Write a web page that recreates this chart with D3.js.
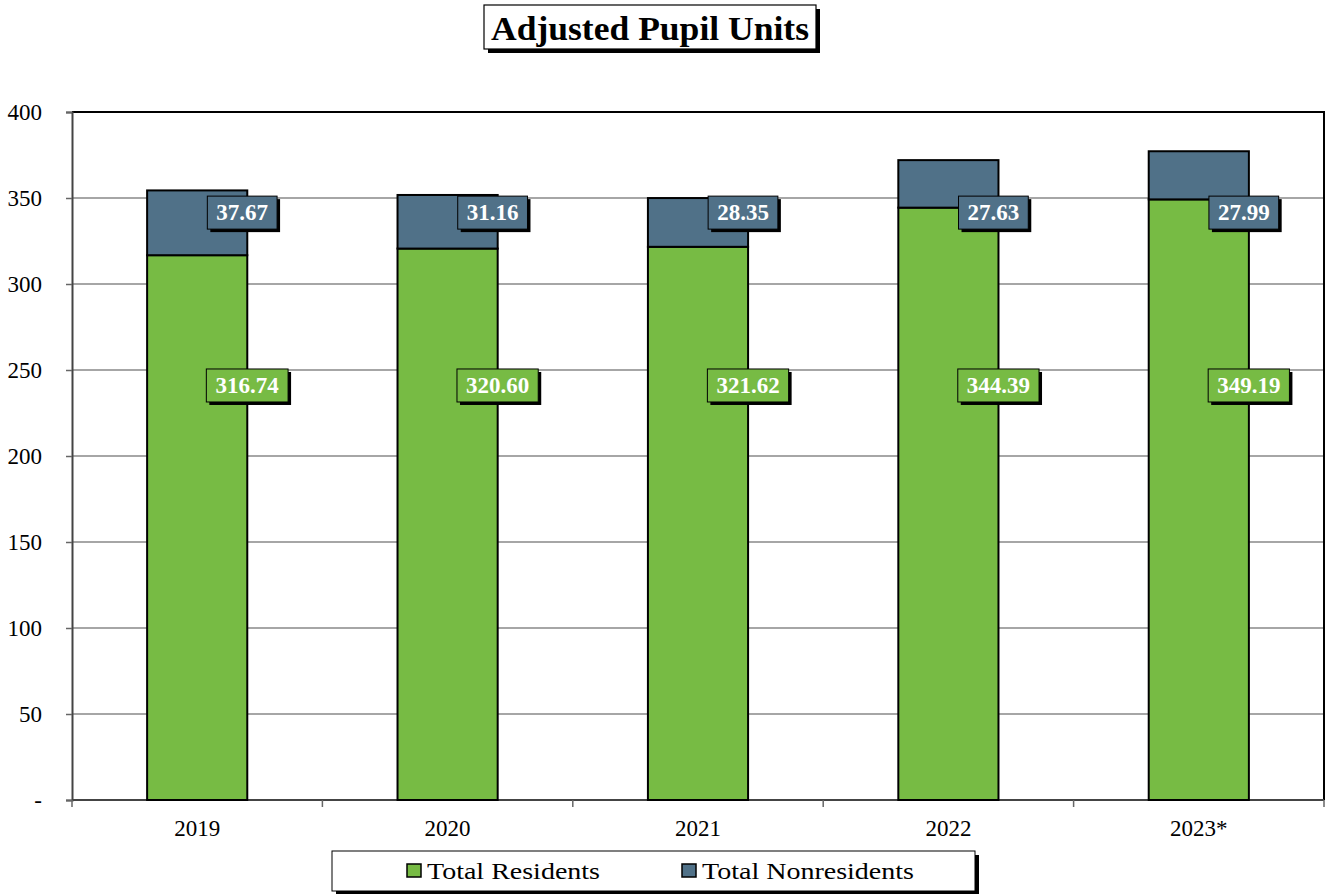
<!DOCTYPE html>
<html>
<head>
<meta charset="utf-8">
<script src="https://cdn.jsdelivr.net/npm/d3@7"></script>
<style>
  body { margin: 0; background: #fff; }
  svg { font-family: "Liberation Serif", "Times New Roman", serif; }
</style>
</head>
<body>
<svg id="chart" width="1329" height="894"></svg>
<script>
// chart data
var years = ['2019', '2020', '2021', '2022', '2023*'];
var residents = [316.74, 320.60, 321.62, 344.39, 349.19];
var nonresidents = [37.67, 31.16, 28.35, 27.63, 27.99];
var yTicks = [0, 50, 100, 150, 200, 250, 300, 350, 400];
var seriesNames = ['Total Residents', 'Total Nonresidents'];
var colors = ['#77bb44', '#507188'];

var svg = d3.select('#chart');
var margin = {left: 72, right: 5, top: 112, bottom: 94};
var width = 1329 - margin.left - margin.right;
var height = 894 - margin.top - margin.bottom;
var g = svg.append('g').attr('transform', 'translate(' + margin.left + ',' + margin.top + ')');

var x = d3.scaleBand().domain(years).range([0, width]).paddingInner(0.6).paddingOuter(0.3);
var xb = d3.scaleLinear().domain([0, years.length]).range([0, width]);
var y = d3.scaleLinear().domain([0, 400]).range([height, 0]);

// gridlines
g.append('g').selectAll('line').data(yTicks.filter(function(d) { return d > 0 && d < 400; }))
  .enter().append('line')
  .attr('x1', 0).attr('x2', width)
  .attr('y1', function(d) { return y(d); }).attr('y2', function(d) { return y(d); })
  .attr('stroke', '#888').attr('stroke-width', 1.3);

// plot border (top/right)
g.append('path')
  .attr('d', 'M0,' + y(400) + 'H' + width + 'V' + height)
  .attr('fill', 'none').attr('stroke', '#000').attr('stroke-width', 2);

// y axis
var yAxis = g.append('g')
  .call(d3.axisLeft(y).tickValues(yTicks).tickSize(6).tickPadding(24)
    .tickFormat(function(d) { return d === 0 ? '-' : d; }));
yAxis.select('.domain').attr('stroke', '#444').attr('stroke-width', 2);
yAxis.selectAll('.tick line').attr('stroke', '#666').attr('stroke-width', 1.5);
yAxis.selectAll('text').attr('font-size', 23).attr('font-family', 'Liberation Serif').attr('fill', '#000');

// x axis
g.append('line').attr('x1', 0).attr('x2', width).attr('y1', height).attr('y2', height)
  .attr('stroke', '#444').attr('stroke-width', 2);
g.append('g').selectAll('line').data(d3.range(years.length + 1)).enter().append('line')
  .attr('x1', function(d) { return xb(d); }).attr('x2', function(d) { return xb(d); })
  .attr('y1', height).attr('y2', height + 7)
  .attr('stroke', '#666').attr('stroke-width', 1.5);
g.append('g').selectAll('text').data(years).enter().append('text')
  .attr('x', function(d) { return x(d) + x.bandwidth() / 2; })
  .attr('y', height + 36)
  .attr('text-anchor', 'middle').attr('font-size', 23)
  .text(function(d) { return d; });

// bars
var rows = years.map(function(yr, i) {
  return {year: yr, res: residents[i], non: nonresidents[i]};
});
var bars = g.append('g');
bars.selectAll('rect.res').data(rows).enter().append('rect')
  .attr('x', function(d) { return x(d.year); })
  .attr('y', function(d) { return y(d.res); })
  .attr('width', x.bandwidth())
  .attr('height', function(d) { return y(0) - y(d.res); })
  .attr('fill', colors[0]).attr('stroke', '#000').attr('stroke-width', 2);
bars.selectAll('rect.non').data(rows).enter().append('rect')
  .attr('x', function(d) { return x(d.year); })
  .attr('y', function(d) { return y(d.res + d.non); })
  .attr('width', x.bandwidth())
  .attr('height', function(d) { return y(d.res) - y(d.res + d.non); })
  .attr('fill', colors[1]).attr('stroke', '#000').attr('stroke-width', 2);

// value labels with drop shadow boxes
var labels = g.append('g');
function label(cx, cy, txt, fill) {
  var grp = labels.append('g');
  var shadow = grp.append('rect').attr('fill', '#000');
  var box = grp.append('rect').attr('fill', fill).attr('stroke', '#000').attr('stroke-width', 1);
  var t = grp.append('text')
    .attr('x', cx).attr('y', cy)
    .attr('text-anchor', 'middle').attr('dominant-baseline', 'central')
    .attr('font-size', 23).attr('font-weight', 'bold').attr('fill', '#fff')
    .text(txt);
  var w = t.node().getBBox().width + 18, h = 33;
  shadow.attr('x', cx - w / 2 + 3).attr('y', cy - h / 2 + 3).attr('width', w).attr('height', h);
  box.attr('x', cx - w / 2).attr('y', cy - h / 2).attr('width', w).attr('height', h);
}
rows.forEach(function(d) {
  var bx = x(d.year) + x.bandwidth() / 2;
  label(bx + 50, y(241), d.res.toFixed(2), colors[0]);
  label(bx + 45, y(341.5), d.non.toFixed(2), colors[1]);
});

// title
var tg = svg.append('g');
tg.append('rect').attr('x', 488).attr('y', 9).attr('width', 332).attr('height', 44).attr('fill', '#000');
tg.append('rect').attr('x', 484).attr('y', 5).attr('width', 332).attr('height', 44)
  .attr('fill', '#fff').attr('stroke', '#000').attr('stroke-width', 1.2);
tg.append('text')
  .attr('x', 650).attr('y', 40)
  .attr('text-anchor', 'middle')
  .attr('font-size', 33).attr('font-weight', 'bold')
  .attr('textLength', 318).attr('lengthAdjust', 'spacingAndGlyphs')
  .text('Adjusted Pupil Units');

// legend
var lg = svg.append('g');
lg.append('rect').attr('x', 336).attr('y', 855).attr('width', 643).attr('height', 40).attr('fill', '#000');
lg.append('rect').attr('x', 332).attr('y', 851).attr('width', 643).attr('height', 40)
  .attr('fill', '#fff').attr('stroke', '#000').attr('stroke-width', 1);
var legX = [407, 682];
var legW = [173, 212];
seriesNames.forEach(function(name, i) {
  lg.append('rect').attr('x', legX[i]).attr('y', 864).attr('width', 14).attr('height', 13)
    .attr('fill', colors[i]).attr('stroke', '#000').attr('stroke-width', 1.5);
  lg.append('text').attr('x', legX[i] + 20).attr('y', 879)
    .attr('font-size', 23)
    .attr('textLength', legW[i]).attr('lengthAdjust', 'spacingAndGlyphs')
    .text(name);
});
</script>
</body>
</html>
